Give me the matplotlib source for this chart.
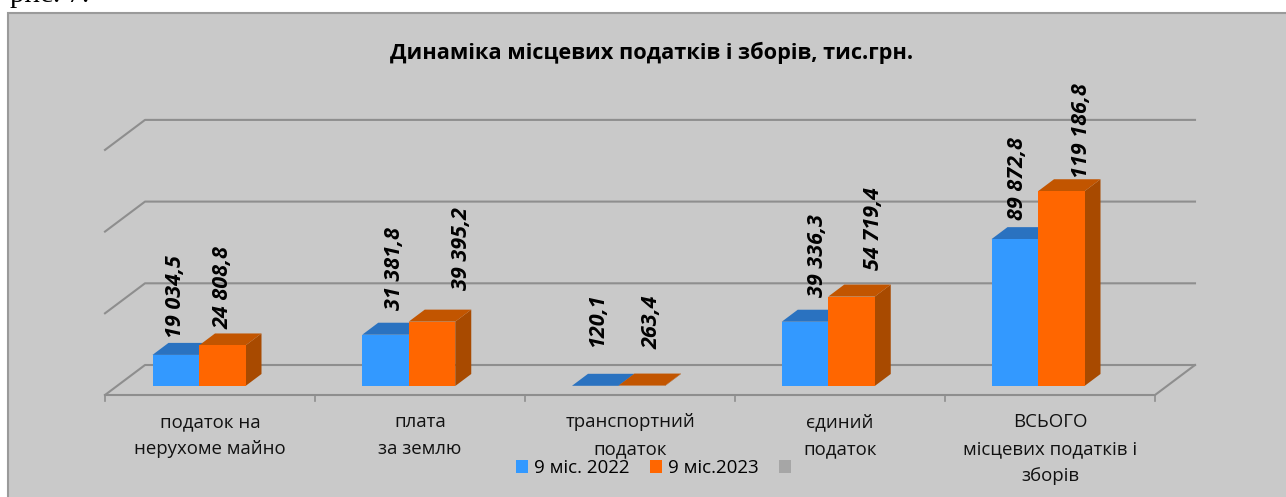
import matplotlib
matplotlib.use('Agg')
import matplotlib.pyplot as plt
from matplotlib.patches import Polygon, Rectangle, Patch

plt.rcParams['font.family'] = ['Open Sans', 'DejaVu Sans']

categories = ['податок на\nнерухоме майно', 'плата\nза землю', 'транспортний\nподаток',
              'єдиний\nподаток', 'ВСЬОГО\nмісцевих податків і\nзборів']
values_2022 = [19034.5, 31381.8, 120.1, 39336.3, 89872.8]
values_2023 = [24808.8, 39395.2, 263.4, 54719.4, 119186.8]
labels_2022 = ['19 034,5', '31 381,8', '120,1', '39 336,3', '89 872,8']
labels_2023 = ['24 808,8', '39 395,2', '263,4', '54 719,4', '119 186,8']
grid_values = [0, 50000, 100000, 150000]

# label shifts in pixels, they were dragged by hand in the original
shift_2022 = [(0, 17), (9, 25), (2, 39), (13, 25), (3, 19)]
shift_2023 = [(1, 16), (29, 32), (10, 37), (22, 27), (20, 13)]

W, H = 1286, 497
PX_CAT = 209.75        # pixels per category
PX_VAL = 81.7 / 50000  # pixels per unit of value
X0, Y0 = 199, 386      # pixel of category 0 / value 0 on the bar plane

BLUE, BLUE_TOP = '#3399ff', '#2a72c0'
ORANGE, ORANGE_TOP, ORANGE_SIDE = '#ff6600', '#c25500', '#a84a00'
GREY = '#8e8e8e'
BG = '#c9c9c9'

fig = plt.figure(figsize=(W / 100, H / 100), dpi=100, facecolor='white')
ax = fig.add_axes([0, 0, 1, 1])
ax.set_xlim(-X0 / PX_CAT, (W - X0) / PX_CAT)
ax.set_ylim((Y0 - H) / PX_VAL, Y0 / PX_VAL)
ax.axis('off')

dx = 1 / PX_CAT
dy = 1 / PX_VAL

# chart background runs off the right and bottom of the crop
ax.add_patch(Rectangle(((8 - X0) * dx, (Y0 - H - 10) * dy), (W + 10) * dx, (H - 13 + 10) * dy,
                       fc=BG, ec='#9a9a9a', lw=1.5, zorder=0))

fl, fr = (105 - X0) * dx, (1155 - X0) * dx   # front edge of the floor
bl, br = (145 - X0) * dx, (1195 - X0) * dx   # back edge of the floor
floor_front, floor_back = (Y0 - 395) * dy, (Y0 - 365) * dy

for g in grid_values:
    ax.plot([fl, bl, br], [floor_front + g, floor_back + g, floor_back + g], color=GREY, lw=1.5, zorder=1)
ax.plot([fl, fr, br], [floor_front, floor_front, floor_back], color=GREY, lw=1.5, zorder=1)
for i in range(len(categories) + 1):
    x = fl + i * 210 * dx
    ax.plot([x, x], [floor_front, floor_front - 6 * dy], color=GREY, lw=1.2, zorder=1)


def draw_bar(left, val, front, top, side, z):
    w = 46.5 * dx
    ox, oy = 16 * dx, 12 * dy
    ax.add_patch(Polygon([(left + w, 0), (left + w + ox, oy), (left + w + ox, val + oy), (left + w, val)],
                         fc=side, ec='none', zorder=z))
    ax.add_patch(Polygon([(left, val), (left + ox, val + oy), (left + w + ox, val + oy), (left + w, val)],
                         fc=top, ec='none', zorder=z))
    ax.add_patch(Rectangle((left, 0), w, val, fc=front, ec='none', zorder=z))


for i in range(len(categories)):
    draw_bar(i - 46.5 * dx, values_2022[i], BLUE, BLUE_TOP, BLUE_TOP, 2)
    draw_bar(i, values_2023[i], ORANGE, ORANGE_TOP, ORANGE_SIDE, 3)
    ax.annotate(labels_2022[i], (i - 23.25 * dx, values_2022[i]), xytext=shift_2022[i],
                textcoords='offset pixels', rotation=90, ha='center', va='bottom',
                fontsize=15.5, fontweight='bold', style='italic', color='black', zorder=5)
    ax.annotate(labels_2023[i], (i + 23.25 * dx, values_2023[i]), xytext=shift_2023[i],
                textcoords='offset pixels', rotation=90, ha='center', va='bottom',
                fontsize=15.5, fontweight='bold', style='italic', color='black', zorder=5)
    ax.text(fl + (i + 0.5) * 210 * dx, (Y0 - 413) * dy, categories[i], ha='center', va='top',
            fontsize=13.4, color='#111111', linespacing=1.66, zorder=4)

ax.text((652 - X0) * dx, (Y0 - 53) * dy, 'Динаміка місцевих податків і зборів, тис.грн.',
        ha='center', va='center', fontsize=15.7, fontweight='bold', color='black')

# piece of the caption above the chart, cut off by the crop
ax.text((10 - X0) * dx, (Y0 - 2) * dy, 'рис. 7.', family='Liberation Serif', fontsize=21,
        ha='left', va='baseline', color='black')

handles = [Patch(fc=BLUE), Patch(fc=ORANGE), Patch(fc='#a6a6a6')]
ax.legend(handles, ['9 міс. 2022', '9 міс.2023', ' '], ncol=3, frameon=False, fontsize=13.5,
          handlelength=0.65, handleheight=0.65, handletextpad=0.3, columnspacing=1.1,
          loc='center', bbox_to_anchor=(659 / W, 1 - 468 / H), borderpad=0, borderaxespad=0)

fig.savefig('out.png', dpi=100)
